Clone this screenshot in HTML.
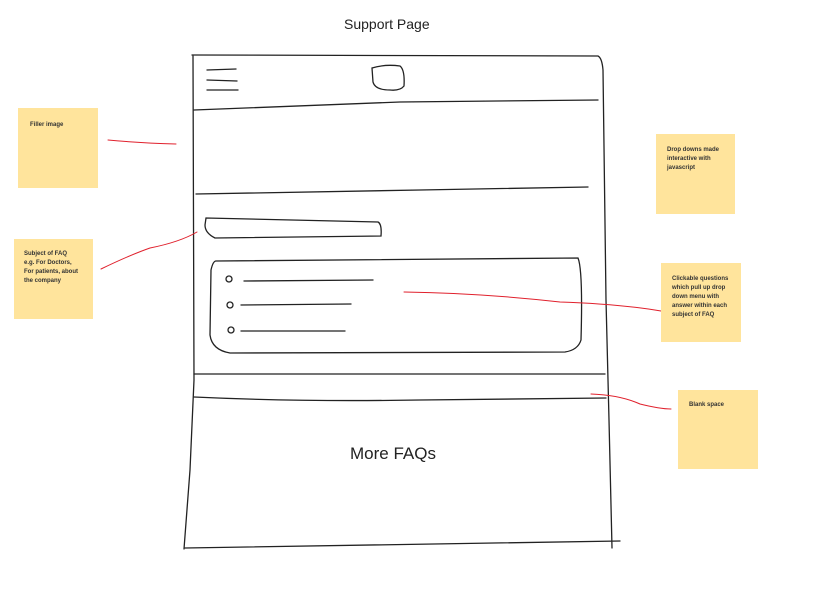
<!DOCTYPE html>
<html><head><style>
body{margin:0;width:836px;height:589px;background:#fff;position:relative;overflow:hidden;font-family:"Liberation Sans",sans-serif}
.n{position:absolute;background:#ffe49c;font-size:6px;font-weight:bold;color:#333;line-height:9px;box-sizing:border-box}
.t{position:absolute;font-family:"Liberation Sans",sans-serif;color:#222}
</style></head><body>
<svg width="836" height="589" style="position:absolute;left:0;top:0" fill="none" stroke-linecap="round">
<g stroke="#222" stroke-width="1.3">
<path d="M192 55 L598 56 Q602 58 603 70 L606 300 L609 420 L612 548"/>
<path d="M193 56 L194 380 L190 470 L184 549"/>
<path d="M185 548 L620 541"/>
<path d="M194 110 Q320 105 400 102 L598 100"/>
<path d="M196 194 Q330 192 420 190 L588 187"/>
<path d="M207 70 L236 69 M207 80 L237 81 M207 90 L238 90"/>
<path d="M372 68 Q385 64 400 66 Q405 70 404 86 Q400 91 390 90 Q375 90 373 82 Z"/>
<path d="M206 218 L378 222 Q382 224 381 236 L215 238 Q205 233 205 225 Z"/>
<path d="M216 261 L578 258 Q583 270 581 340 Q578 350 565 352 L230 353 Q212 350 210 335 L211 270 Q213 261 216 261 Z"/>
<path d="M244 281 L373 280 M241 305 L351 304 M241 331 L345 331"/>
<circle cx="229" cy="279" r="3"/><circle cx="230" cy="305" r="3"/><circle cx="231" cy="330" r="3"/>
<path d="M194 374 L605 374"/>
<path d="M194 397 Q300 402 420 400 L606 398"/>
</g>
<g stroke="#e0202c" stroke-width="1">
<path d="M108 140 Q140 143 176 144"/>
<path d="M101 269 Q130 255 150 248 Q180 242 197 232"/>
<path d="M404 292 Q480 293 560 302 Q620 304 661 311"/>
<path d="M591 394 Q620 395 640 404 Q660 409 671 409"/>
</g>
</svg>
<div class="t" style="left:344px;top:16px;font-size:14px">Support Page</div>
<div class="t" style="left:350px;top:444px;font-size:17px">More FAQs</div>
<div class="n" style="left:18px;top:108px;width:80px;height:80px;padding:13px 0 0 12px">Filler image</div>
<div class="n" style="left:14px;top:239px;width:79px;height:80px;padding:11px 0 0 10px">Subject of FAQ<br>e.g. For Doctors,<br>For patients, about<br>the company</div>
<div class="n" style="left:656px;top:134px;width:79px;height:80px;padding:12px 0 0 11px">Drop downs made<br>interactive with<br>javascript</div>
<div class="n" style="left:661px;top:263px;width:80px;height:79px;padding:12px 0 0 11px">Clickable questions<br>which pull up drop<br>down menu with<br>answer within each<br>subject of FAQ</div>
<div class="n" style="left:678px;top:390px;width:80px;height:79px;padding:11px 0 0 11px">Blank space</div>
</body></html>
